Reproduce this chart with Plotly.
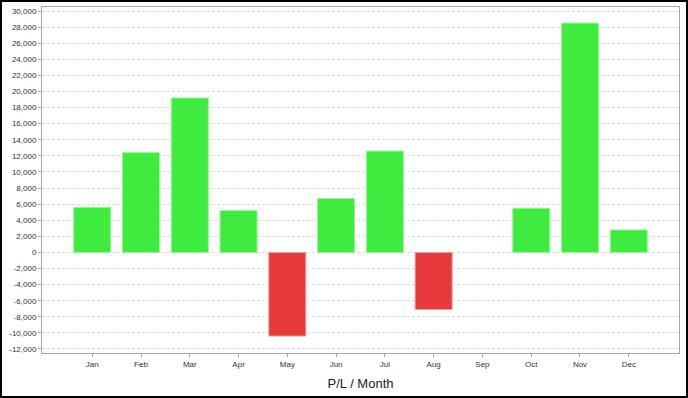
import plotly.graph_objects as go

months = ["Jan", "Feb", "Mar", "Apr", "May", "Jun", "Jul", "Aug", "Sep", "Oct", "Nov", "Dec"]
pl_values = [5600, 12400, 19200, 5200, -10400, 6700, 12600, -7100, 0, 5500, 28500, 2800]
y_ticks = list(range(-12000, 30001, 2000))
y_ticktext = [f"{v:,}" for v in y_ticks]

colors = ["#3EEB3E" if v >= 0 else "#E8393D" for v in pl_values]
line_colors = ["#9CF59C" if v >= 0 else "#F2A0A2" for v in pl_values]
line_widths = [1 if v != 0 else 0 for v in pl_values]

fig = go.Figure(go.Bar(
    x=list(range(len(months))), y=pl_values,
    marker=dict(color=colors, line=dict(color=line_colors, width=line_widths)),
    width=0.76,
))

W, H = 688, 398
ml, mr, mt, mb = 42, 9, 7, 45
pw, ph = W - ml - mr, H - mt - mb

fig.update_layout(
    width=W, height=H,
    margin=dict(l=ml, r=mr, t=mt, b=mb, autoexpand=False),
    paper_bgcolor="white", plot_bgcolor="white",
    showlegend=False,
    font=dict(family="Liberation Sans, Arial, sans-serif", color="#333"),
    xaxis=dict(
        tickmode="array", tickvals=list(range(len(months))), ticktext=months,
        range=[-1.03, 12.03], automargin=False,
        showline=True, linecolor="#A8A8A8", linewidth=1, mirror=True,
        ticks="outside", ticklen=3, tickcolor="#A8A8A8",
        showgrid=False, zeroline=False,
        tickfont=dict(size=8, color="#333"),
        title=dict(text="P/L / Month", font=dict(size=13, color="#222"), standoff=11),
    ),
    yaxis=dict(
        range=[-12500, 30500], automargin=False,
        tickmode="array", tickvals=y_ticks, ticktext=y_ticktext,
        showline=True, linecolor="#A8A8A8", linewidth=1, mirror=True,
        ticks="outside", ticklen=3, tickcolor="#A8A8A8",
        showgrid=True, gridcolor="#DDDDDD", gridwidth=1, griddash="3px,2px",
        zeroline=False,
        tickfont=dict(size=8, color="#333"),
    ),
    shapes=[dict(
        type="rect", xref="paper", yref="paper",
        x0=(1 - ml) / pw, x1=(W - 1 - ml) / pw,
        y0=(-(mb - 1)) / ph, y1=(ph + mt - 1) / ph,
        line=dict(color="black", width=2), fillcolor="rgba(0,0,0,0)", layer="above",
    )],
)

fig.write_html(
    "out.html",
    config={"displayModeBar": False},
    post_script="document.body.style.margin='0';document.body.style.overflow='hidden';",
)
